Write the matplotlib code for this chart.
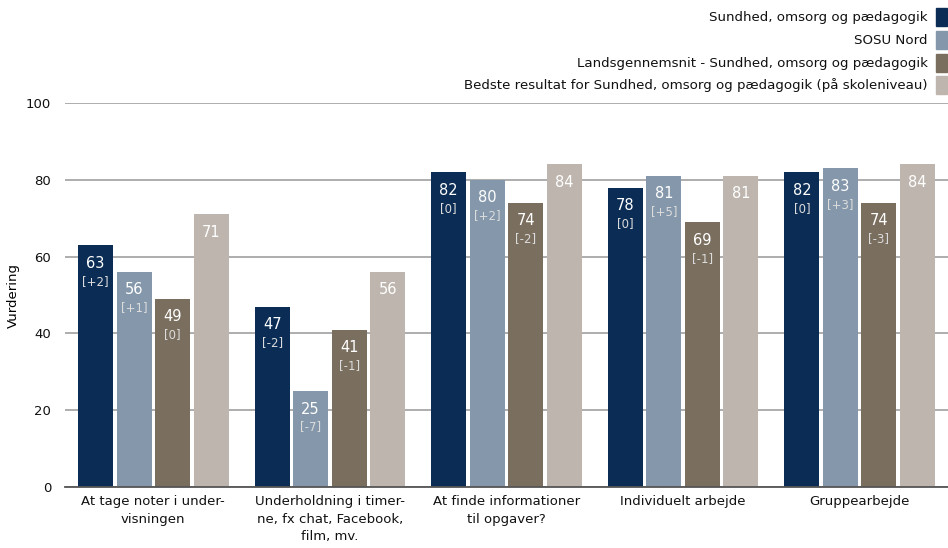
import matplotlib
matplotlib.use("Agg")
import matplotlib.pyplot as plt
from matplotlib.patches import Rectangle
import numpy as np

categories = [
    "At tage noter i under-\nvisningen",
    "Underholdning i timer-\nne, fx chat, Facebook,\nfilm, mv.",
    "At finde informationer\ntil opgaver?",
    "Individuelt arbejde",
    "Gruppearbejde",
]
series_names = [
    "Sundhed, omsorg og pædagogik",
    "SOSU Nord",
    "Landsgennemsnit - Sundhed, omsorg og pædagogik",
    "Bedste resultat for Sundhed, omsorg og pædagogik (på skoleniveau)",
]
sundhed = [63, 47, 82, 78, 82]
sosu_nord = [56, 25, 80, 81, 83]
landsgennemsnit = [49, 41, 74, 69, 74]
bedste = [71, 56, 84, 81, 84]

sundhed_diff = ["[+2]", "[-2]", "[0]", "[0]", "[0]"]
sosu_diff = ["[+1]", "[-7]", "[+2]", "[+5]", "[+3]"]
lands_diff = ["[0]", "[-1]", "[-2]", "[-1]", "[-3]"]

yticks = [0, 20, 40, 60, 80, 100]
ylabel = "Vurdering"

colors = ["#0b2d55", "#8497ab", "#7a6e5e", "#beb6ae"]

plt.rcParams["font.family"] = ["DejaVu Sans"]
fig = plt.figure(figsize=(9.48, 5.48), dpi=100)
ax = fig.add_axes([0.0686, 0.1113, 0.9314, 0.7007])

values = [sundhed, sosu_nord, landsgennemsnit, bedste]
diffs = [sundhed_diff, sosu_diff, lands_diff, None]
x = np.arange(len(categories))
step = 0.218
width = 0.198
offsets = (np.arange(4) - 1.5) * step

for i, (vals, col) in enumerate(zip(values, colors)):
    bars = ax.bar(x + offsets[i], vals, width=width, color=col, zorder=3)
    for j, b in enumerate(bars):
        cx = b.get_x() + b.get_width() / 2
        top = b.get_height()
        ax.annotate(f"{vals[j]}", (cx, top), xytext=(0, -18), textcoords="offset pixels",
                    ha="center", va="center", color="white", fontsize=10.5, zorder=4)
        if diffs[i] is not None:
            ax.annotate(diffs[i][j], (cx, top), xytext=(0, -36), textcoords="offset pixels",
                        ha="center", va="center", color="#dcdcdc", fontsize=8.5, zorder=4)

ax.set_xlim(-0.5, len(categories) - 0.5)
ax.set_ylim(0, 100)
ax.set_yticks(yticks)
ax.set_xticks(x)
ax.set_xticklabels(categories, fontsize=9.5, linespacing=1.45)
ax.tick_params(axis="both", length=0, labelsize=9.5, colors="#111111")
ax.tick_params(axis="x", pad=6)
ax.tick_params(axis="y", pad=10)
ax.yaxis.grid(True, color="#a0a0a0", linewidth=1.2, zorder=0)
for s in ["top", "right", "left"]:
    ax.spines[s].set_visible(False)
ax.spines["bottom"].set_color("#555555")
ax.spines["bottom"].set_linewidth(1.3)
ax.spines["bottom"].set_zorder(5)
ax.set_ylabel(ylabel, fontsize=9.5, labelpad=4)

# legend drawn at the top right, text right-aligned next to colour swatches
W, H = 948, 548
rows_y = [17, 40, 63, 85]
for name, col, yy in zip(series_names, colors, rows_y):
    fig.text(928 / W, 1 - yy / H, name, ha="right", va="center", fontsize=9.6, color="#111111")
    fig.patches.append(Rectangle((936 / W, 1 - (yy + 9) / H), 11 / W, 18 / H,
                                 transform=fig.transFigure, color=col))

fig.savefig("out.png", dpi=100)
